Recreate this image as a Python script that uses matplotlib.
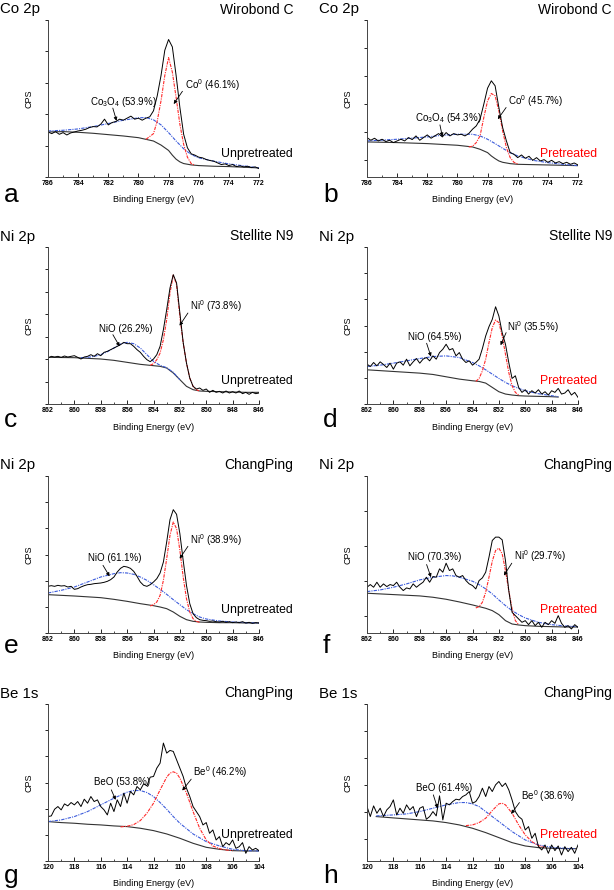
import numpy as np
import matplotlib.pyplot as plt

plt.rcParams['font.family'] = 'Liberation Sans'
plt.rcParams['mathtext.fontset'] = 'custom'
plt.rcParams['mathtext.rm'] = 'Liberation Sans'
plt.rcParams['mathtext.it'] = 'Liberation Sans:italic'

# ---- data (CPS in arbitrary units) ----
# raw spectra, sampled every 0.25 eV from the left end of the axis
a_raw = [134, 129, 135, 127, 132, 125, 131, 134, 137, 139,
         142, 147, 150, 149, 157, 172, 155, 162, 165, 172,
         169, 175, 181, 172, 175, 169, 175, 179, 197, 242,
         302, 377, 409, 387, 302, 207, 127, 87, 69, 65,
         59, 57, 52, 49, 47, 42, 37, 39, 34, 37,
         31, 33, 30, 32, 28, 30, 25]
b_raw = [118, 110, 116, 108, 113, 106, 110, 103, 108, 113,
         108, 118, 112, 123, 110, 118, 126, 116, 123, 130,
         120, 133, 123, 130, 126, 128, 123, 130, 143, 153,
         173, 218, 266, 288, 273, 208, 148, 108, 73, 68,
         58, 66, 56, 62, 50, 58, 48, 52, 44, 50,
         42, 46, 40, 44, 38, 42, 36]
c_raw = [138, 143, 141, 143, 140, 144, 141, 143, 145, 140,
         135, 141, 143, 148, 143, 151, 145, 155, 158, 163,
         168, 173, 178, 185, 181, 181, 173, 163, 155, 143,
         133, 127, 135, 148, 173, 223, 283, 348, 388, 363,
         273, 185, 123, 78, 53, 45, 48, 41, 45, 35,
         41, 35, 38, 33, 39, 33, 37, 33, 39, 31,
         35, 29, 35, 31, 33]
d_raw = [120, 113, 125, 115, 127, 119, 110, 123, 105, 123,
         127, 117, 135, 115, 127, 137, 123, 135, 140, 130,
         145, 135, 155, 165, 180, 163, 167, 145, 155, 135,
         125, 130, 117, 125, 135, 167, 205, 233, 255, 293,
         265, 215, 180, 125, 77, 85, 50, 35, 43, 30,
         40, 33, 43, 30, 37, 27, 40, 35, 47, 30,
         33, 43, 27, 35, 20]
e_raw = [140, 142, 140, 143, 141, 142, 138, 140, 131, 133,
         138, 142, 145, 146, 148, 149, 150, 152, 155, 160,
         168, 183, 194, 200, 198, 194, 185, 170, 153, 143,
         140, 145, 153, 163, 180, 213, 273, 340, 370, 356,
         298, 218, 143, 88, 58, 46, 40, 38, 37, 35,
         36, 34, 33, 35, 32, 34, 31, 33, 31, 34,
         30, 32, 29, 31, 30]
f_raw = [137, 145, 137, 152, 137, 147, 139, 145, 142, 152,
         137, 127, 135, 132, 147, 137, 145, 152, 167, 152,
         169, 167, 192, 182, 209, 187, 192, 172, 167, 172,
         157, 147, 142, 132, 157, 165, 182, 227, 277, 287,
         287, 279, 217, 127, 62, 52, 42, 32, 37, 25,
         37, 22, 32, 17, 32, 25, 37, 29, 52, 29,
         17, 22, 12, 25, 17]
g_raw = [133, 135, 155, 163, 153, 171, 165, 175, 168, 178,
         163, 185, 173, 193, 178, 183, 163, 153, 138, 173,
         148, 183, 163, 203, 173, 208, 198, 223, 213, 231,
         225, 251, 253, 278, 293, 353, 323, 331, 328, 303,
         278, 253, 218, 193, 163, 148, 133, 108, 115, 83,
         93, 63, 73, 43, 55, 48, 63, 38, 43, 55,
         23, 43, 33, 38, 31]
h_raw = [163, 133, 165, 143, 158, 133, 153, 163, 183, 138,
         158, 143, 168, 153, 163, 133, 158, 163, 125, 133,
         148, 135, 195, 123, 173, 168, 178, 185, 183, 193,
         198, 208, 173, 178, 193, 218, 193, 223, 208, 228,
         238, 223, 233, 213, 183, 148, 133, 125, 93, 103,
         68, 83, 43, 33, 48, 23, 48, 31, 45, 18,
         43, 28, 41, 23, 48]

# Shirley background, oxide component and metal component
a_base_e = [786, 785, 784, 783, 782, 781, 780, 779.5, 779, 778.5, 778, 777.75, 777.5, 777.25, 777, 776.5, 776, 775, 774, 773, 772]
a_base = [134, 135, 133, 130, 126, 122, 117, 112, 107, 95, 79, 65, 53, 45, 40, 36, 34, 32, 31, 29, 27]
a_ox_e = [786, 785, 784, 783, 782, 781, 780, 779.5, 779, 778.5, 778, 777.5, 777, 776.5, 776, 775, 774, 773, 772]
a_ox = [137, 139, 143, 150, 159, 169, 176, 177, 170, 155, 132, 107, 84, 67, 57, 47, 39, 33, 27]
a_met_e = [779.5, 779, 778.75, 778.5, 778.25, 778, 777.75, 777.5, 777.25, 777, 776.75, 776.5, 776.25]
a_met = [112, 129, 167, 227, 302, 355, 312, 237, 157, 97, 59, 40, 35]

b_base_e = [786, 784, 782, 780, 779, 778.5, 778, 777.75, 777.5, 777.25, 777, 776.5, 776, 775, 774, 773, 772]
b_base = [105, 103, 100, 95, 90, 83, 73, 63, 55, 48, 44, 40, 38, 37, 36, 35, 34]
b_ox_e = [786, 784, 782, 781, 780, 779, 778.5, 778, 777.5, 777, 776.5, 776, 775, 774, 773, 772]
b_ox = [108, 113, 120, 125, 128, 128, 123, 113, 100, 86, 73, 63, 50, 43, 38, 34]
b_met_e = [779.25, 779, 778.75, 778.5, 778.25, 778, 777.75, 777.5, 777.25, 777, 776.75, 776.5, 776.25, 776]
b_met = [90, 92, 103, 123, 178, 228, 250, 243, 198, 138, 88, 58, 44, 39]

c_base_e = [862, 860, 858, 857, 856, 855, 854, 853.5, 853, 852.5, 852, 851.5, 851, 850.5, 850, 849, 848, 847, 846]
c_base = [140, 139, 135, 131, 125, 119, 115, 113, 108, 93, 73, 53, 43, 39, 38, 37, 36, 35, 35]
c_ox_e = [859.5, 859, 858.5, 858, 857.5, 857, 856.5, 856, 855.5, 855, 854.5, 854, 853.5, 853, 852.5, 852]
c_ox = [139, 140, 143, 148, 157, 168, 180, 185, 181, 168, 148, 128, 116, 109, 95, 73]
c_met_e = [854.25, 854, 853.75, 853.5, 853.25, 853, 852.75, 852.5, 852.25, 852, 851.75, 851.5, 851.25, 851, 850.75, 850.5]
c_met = [116, 121, 133, 153, 193, 253, 333, 387, 358, 263, 183, 123, 78, 53, 43, 39]

d_base_e = [862, 860, 858, 857, 856, 855, 854, 853.5, 853, 852.5, 852, 851.5, 851, 850.5, 850, 849, 848, 847.5]
d_base = [103, 98, 93, 89, 82, 75, 70, 68, 63, 50, 37, 30, 27, 25, 24, 23, 22, 21]
d_ox_e = [862, 861, 860, 859, 858, 857, 856, 855, 854, 853.5, 853, 852.5, 852, 851.5, 851, 850.5, 850, 849, 848, 847.5]
d_ox = [113, 117, 123, 130, 137, 143, 145, 140, 125, 115, 103, 90, 77, 65, 55, 47, 40, 31, 25, 22]
d_met_e = [853.75, 853.5, 853.25, 853, 852.75, 852.5, 852.25, 852, 851.75, 851.5, 851.25, 851, 850.75, 850.5]
d_met = [68, 77, 100, 135, 185, 230, 253, 245, 205, 150, 95, 55, 35, 27]

e_base_e = [862, 860, 858, 857, 856, 855, 854, 853.5, 853, 852.5, 852, 851.5, 851, 850.5, 850, 849, 848, 847, 846]
e_base = [115, 111, 106, 101, 95, 88, 82, 78, 73, 63, 50, 40, 35, 33, 32, 31, 31, 30, 30]
e_ox_e = [862, 861, 860, 859, 858, 857, 856.5, 856, 855.5, 855, 854.5, 854, 853.5, 853, 852.5, 852, 851.5, 851, 850.5, 850, 849, 848, 847, 846]
e_ox = [120, 128, 138, 153, 168, 178, 181, 180, 176, 168, 158, 145, 131, 116, 100, 85, 70, 58, 48, 42, 36, 33, 31, 30]
e_met_e = [854.25, 854, 853.75, 853.5, 853.25, 853, 852.75, 852.5, 852.25, 852, 851.75, 851.5, 851.25, 851, 850.75, 850.5]
e_met = [81, 85, 93, 113, 158, 223, 293, 333, 313, 248, 168, 103, 63, 43, 35, 32]

f_base_e = [862, 860, 858, 857, 856, 855, 854, 853.5, 853, 852.5, 852, 851.5, 851, 850.5, 850, 849, 848, 847, 846]
f_base = [119, 115, 111, 107, 101, 93, 84, 79, 74, 67, 55, 37, 27, 24, 22, 20, 19, 18, 18]
f_ox_e = [862, 861, 860, 859, 858, 857, 856, 855.5, 855, 854, 853.5, 853, 852.5, 852, 851.5, 851, 850.5, 850, 849, 848, 847, 846]
f_ox = [124, 129, 137, 147, 159, 167, 172, 171, 167, 155, 145, 132, 117, 99, 82, 67, 55, 45, 32, 25, 21, 19]
f_met_e = [853.75, 853.5, 853.25, 853, 852.75, 852.5, 852.25, 852, 851.75, 851.5, 851.25, 851, 850.75, 850.5]
f_met = [75, 79, 92, 122, 167, 215, 247, 254, 237, 187, 127, 72, 37, 25]

g_base_e = [120, 119, 118, 117, 116, 115, 114, 113, 112, 111, 110, 109, 108, 107, 106, 105, 104]
g_base = [118, 115, 113, 110, 108, 105, 103, 98, 91, 81, 68, 53, 41, 35, 31, 30, 30]
g_ox_e = [120, 119, 118, 117, 116, 115, 114, 113.5, 113, 112.5, 112, 111.5, 111, 110.5, 110, 109, 108, 107, 106, 105, 104]
g_ox = [118, 123, 133, 148, 168, 188, 206, 211, 211, 205, 193, 175, 155, 133, 113, 81, 58, 45, 35, 31, 30]
g_met_e = [114.5, 114, 113.5, 113, 112.5, 112, 111.5, 111, 110.75, 110.5, 110.25, 110, 109.5, 109, 108.5, 108, 107.5, 107, 106.5, 106]
g_met = [102, 104, 109, 121, 143, 173, 213, 251, 263, 267, 263, 248, 203, 148, 98, 63, 45, 37, 33, 31]

h_base_e = [119.3, 118, 117, 116, 115, 114, 113, 112, 111, 110, 109, 108, 107, 106, 105, 104.2]
h_base = [133, 129, 126, 123, 120, 115, 108, 98, 85, 70, 55, 45, 40, 38, 37, 37]
h_ox_e = [119.3, 118, 117, 116, 115, 114, 113, 112.5, 112, 111.5, 111, 110.5, 110, 109, 108, 107, 106, 105, 104.2]
h_ox = [135, 138, 141, 148, 158, 168, 175, 175, 171, 163, 148, 133, 118, 88, 63, 48, 41, 38, 37]
h_met_e = [112.5, 112, 111.5, 111, 110.5, 110, 109.75, 109.5, 109, 108.5, 108, 107.5, 107, 106.5]
h_met = [106, 108, 115, 128, 151, 171, 173, 168, 143, 108, 78, 58, 46, 41]

ox_labels = [r'Co$_3$O$_4$ (53.9%)', r'Co$_3$O$_4$ (54.3%)', 'NiO (26.2%)', 'NiO (64.5%)',
             'NiO (61.1%)', 'NiO (70.3%)', 'BeO (53.8%)', 'BeO (61.4%)']
met_labels = [r'Co$^0$ (46.1%)', r'Co$^0$ (45.7%)', r'Ni$^0$ (73.8%)', r'Ni$^0$ (35.5%)',
              r'Ni$^0$ (38.9%)', r'Ni$^0$ (29.7%)', r'Be$^0$ (46.2%)', r'Be$^0$ (38.6%)']
regions = ['Co 2p', 'Co 2p', 'Ni 2p', 'Ni 2p', 'Ni 2p', 'Ni 2p', 'Be 1s', 'Be 1s']
samples = ['Wirobond C', 'Wirobond C', 'Stellite N9', 'Stellite N9',
           'ChangPing', 'ChangPing', 'ChangPing', 'ChangPing']
letters = ['a', 'b', 'c', 'd', 'e', 'f', 'g', 'h']

# ---- layout ----
W, H = 614, 890
fig = plt.figure(figsize=(W / 100, H / 100), dpi=100)
col_left = [48, 367]
row_top = [20, 247, 476, 704]
letter_base = [202, 427, 653, 883]
AW, AH = 211, 157

def fx(px):
    return px / W

def fy(py):
    return 1 - py / H

panels = [
    dict(raw=a_raw, be=(786, 772), base=(a_base_e, a_base), ox=(a_ox_e, a_ox), met=(a_met_e, a_met),
         yl=(467, 0, 93.4, 5), ox_t=(783.23, 222), ox_a=((781.7, 205), (781.45, 167)),
         met_t=(776.93, 272), met_a=((777.08, 255), (777.66, 217))),
    dict(raw=b_raw, be=(786, 772), base=(b_base_e, b_base), ox=(b_ox_e, b_ox), met=(b_met_e, b_met),
         yl=(470, 52, 83.6, 5), ox_t=(782.81, 178), ox_a=((781.16, 156), (781.0, 121)),
         met_t=(776.66, 228), met_a=((776.77, 208), (777.32, 173))),
    dict(raw=c_raw, be=(862, 846), base=(c_base_e, c_base), ox=(c_ox_e, c_ox), met=(c_met_e, c_met),
         yl=(471, 0, 67.3, 7), ox_t=(858.14, 225), ox_a=((857.08, 208), (856.57, 173)),
         met_t=(851.27, 293), met_a=((851.39, 273), (852.03, 235))),
    dict(raw=d_raw, be=(862, 846), base=(d_base_e, d_base), ox=(d_ox_e, d_ox), met=(d_met_e, d_met),
         yl=(473, 0, 78.8, 6), ox_t=(858.86, 203), ox_a=((857.48, 183), (857.15, 143)),
         met_t=(851.37, 233), met_a=((851.45, 215), (851.87, 177))),
    dict(raw=e_raw, be=(862, 846), base=(e_base_e, e_base), ox=(e_ox_e, e_ox), met=(e_met_e, e_met),
         yl=(471, 0, 78.5, 6), ox_t=(858.97, 226), ox_a=((857.83, 203), (857.33, 170)),
         met_t=(851.27, 280), met_a=((851.39, 260), (852.02, 223))),
    dict(raw=f_raw, be=(862, 846), base=(f_base_e, f_base), ox=(f_ox_e, f_ox), met=(f_met_e, f_met),
         yl=(470, 50, 105, 4), ox_t=(858.86, 227), ox_a=((857.48, 205), (857.15, 167)),
         met_t=(850.87, 229), met_a=((851.02, 209), (851.62, 172))),
    dict(raw=g_raw, be=(120, 104), base=(g_base_e, g_base), ox=(g_ox_e, g_ox), met=(g_met_e, g_met),
         yl=(470, 0, 78.3, 6), ox_t=(116.54, 236), ox_a=((115.2, 213), (114.87, 183)),
         met_t=(109.02, 265), met_a=((109.14, 245), (109.82, 211))),
    dict(raw=h_raw, be=(120, 104), base=(h_base_e, h_base), ox=(h_ox_e, h_ox), met=(h_met_e, h_met),
         yl=(470, 66, 80.8, 5), ox_t=(116.28, 220), ox_a=((114.97, 198), (114.65, 158)),
         met_t=(108.32, 193), met_a=((108.44, 175), (109.07, 141))),
]

blue = '#3b5bdb'
red = '#ff2a2a'

for i, p in enumerate(panels):
    row, col = i // 2, i % 2
    left, top = col_left[col], row_top[row]
    bottom = top + AH
    ax = fig.add_axes([fx(left), fy(bottom), fx(AW), AH / H])

    e0, e1 = p['be']
    energy = np.linspace(e0, e1, len(p['raw']))
    ax.plot(p['base'][0], p['base'][1], color='#333333', lw=0.8)
    ax.plot(p['ox'][0], p['ox'][1], color=blue, lw=0.8, ls=(0, (3, 1, 1, 1)))
    ax.plot(p['met'][0], p['met'][1], color=red, lw=0.8, ls=(0, (3, 1, 1, 1)))
    ax.plot(energy, p['raw'], color='black', lw=0.7)

    ytop, y0, ystep, n = p['yl']
    ax.set_xlim(e0, e1)
    ax.set_ylim(0, ytop)
    ax.set_xticks(np.arange(e0, e1 - 1, -2))
    ax.set_xticks(np.arange(e0, e1 - 0.5, -1), minor=True)
    ax.set_yticks([y0 + k * ystep for k in range(n + 1)])
    ax.set_yticklabels([])
    for lab in ax.get_xticklabels():
        lab.set_fontweight('bold')
    ax.tick_params(axis='x', which='major', labelsize=5, direction='in',
                   length=3, width=0.6, pad=2.5)
    ax.tick_params(axis='x', which='minor', direction='in', length=1.6, width=0.5)
    ax.tick_params(axis='y', length=2.5, width=0.6)
    for s in ['top', 'right']:
        ax.spines[s].set_visible(False)
    for s in ['left', 'bottom']:
        ax.spines[s].set_linewidth(0.7)
        ax.spines[s].set_color('#444444')

    ax.text(p['ox_t'][0], p['ox_t'][1], ox_labels[i], fontsize=7, ha='left', va='center')
    ax.text(p['met_t'][0], p['met_t'][1], met_labels[i], fontsize=7, ha='left', va='center')
    for tail, tip in [p['ox_a'], p['met_a']]:
        ax.annotate('', xy=tip, xytext=tail,
                    arrowprops=dict(arrowstyle='-|>', lw=0.6, color='black',
                                    mutation_scale=5, shrinkA=0, shrinkB=0))

    # labels around the panel, placed in figure pixels
    fig.text(fx(left - 48), fy(top - 10.5), regions[i], fontsize=10.8, ha='left', va='center')
    fig.text(fx(left + 245), fy(top - 10.5), samples[i], fontsize=10, ha='right', va='center')
    off = 26 if row == 3 else 23
    if col == 0:
        fig.text(fx(left + 245), fy(bottom - off), 'Unpretreated', fontsize=8.8,
                 ha='right', va='center', color='black')
    else:
        fig.text(fx(left + 230), fy(bottom - off), 'Pretreated', fontsize=8.8,
                 ha='right', va='center', color='red')
    fig.text(fx(left - 44), fy(letter_base[row]), letters[i], fontsize=19,
             ha='left', va='baseline')
    fig.text(fx(left - 19), fy(top + AH / 2), 'CPS', fontsize=6.5, rotation=90,
             ha='center', va='center')
    fig.text(fx(left + AW / 2), fy(bottom + 23), 'Binding Energy (eV)', fontsize=6.5,
             ha='center', va='center')

fig.savefig('out.png', dpi=100)
